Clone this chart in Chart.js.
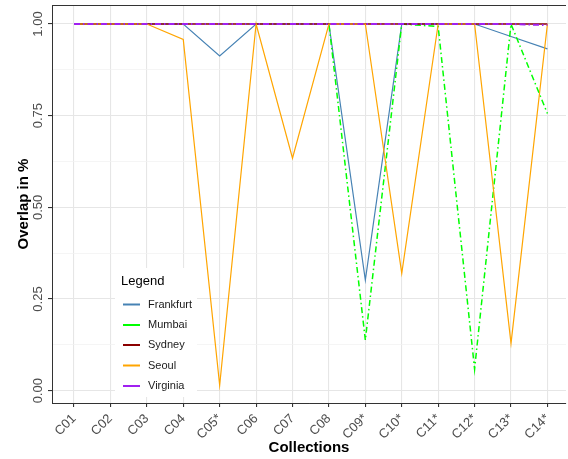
<!DOCTYPE html>
<html>
<head>
<meta charset="utf-8">
<script src="https://cdn.jsdelivr.net/npm/chart.js@4"></script>
<style>
html,body{margin:0;padding:0;background:#fff;}
#wrap{width:568px;height:459px;position:relative;}
</style>
</head>
<body>
<div id="wrap"><canvas id="c" width="568" height="459"></canvas></div>
<script>
const categories = ['C01','C02','C03','C04','C05*','C06','C07','C08','C09*','C10*','C11*','C12*','C13*','C14*'];
const frankfurt = [1,1,1,1,0.913,1,1,1,0.302,1,1,1,0.966,0.932];
const mumbai    = [1,1,1,1,1,1,1,1,0.138,1,0.993,0.059,1,0.756];
const sydney    = [1,1,1,1,1,1,1,1,1,1,1,1,1,1];
const seoul     = [1,1,1,0.958,0.015,1,0.634,1,1,0.320,1,1,0.129,1];
const virginia  = [1,1,1,1,1,1,1,1,1,1,1,1,1,0.997];
const yTicks = [0,0.25,0.5,0.75,1];
const yMinor = [0.125,0.375,0.625,0.875];
const seriesNames = ['Frankfurt','Mumbai','Sydney','Seoul','Virginia'];
const seriesColors = ['#4682B4','#00FF00','#8B0000','#FFA500','#A020F0'];

const FONT = "'Liberation Sans', Arial, Helvetica, sans-serif";
const pts = arr => arr.map((v,i)=>({x:i+1,y:v}));

const series = [frankfurt, mumbai, sydney, seoul, virginia];
const widths = [1.2, 1.5, 1.3, 1.2, 2];
const dashes = [[], [6,3,1.5,3], [], [], [6,3,1.5,3]];
const datasets = series.map((s,i)=>({
  label: seriesNames[i],
  data: pts(s),
  borderColor: seriesColors[i],
  backgroundColor: seriesColors[i],
  borderWidth: widths[i],
  borderDash: dashes[i],
  pointRadius: 0,
  tension: 0,
  fill: false,
  order: 5 - i
}));

const extras = {
  id: 'extras',
  afterDraw(chart) {
    const ctx = chart.ctx;
    const a = chart.chartArea;
    ctx.save();
    ctx.strokeStyle = '#333333';
    ctx.lineWidth = 1;
    ctx.beginPath();
    ctx.moveTo(a.left, a.top + 0.5);
    ctx.lineTo(a.right, a.top + 0.5);
    ctx.stroke();
    ctx.fillStyle = '#ffffff';
    ctx.fillRect(115, 268, 82, 129);
    ctx.fillStyle = '#000000';
    ctx.font = '13px ' + FONT;
    ctx.textBaseline = 'middle';
    ctx.textAlign = 'left';
    ctx.fillText('Legend', 121, 281);
    ctx.font = '11px ' + FONT;
    const ys = [304.5, 325, 345, 365.5, 386];
    seriesNames.forEach((n,i)=>{
      ctx.strokeStyle = seriesColors[i];
      ctx.lineWidth = 2;
      ctx.beginPath();
      ctx.moveTo(123, ys[i]);
      ctx.lineTo(140, ys[i]);
      ctx.stroke();
      ctx.fillStyle = '#1a1a1a';
      ctx.fillText(n, 148, ys[i]);
    });
    ctx.restore();
  }
};

new Chart(document.getElementById('c'), {
  type: 'line',
  data: { datasets },
  plugins: [extras],
  options: {
    responsive: false,
    animation: false,
    events: [],
    layout: { padding: { left: 0, top: 5, right: 2, bottom: 0 } },
    plugins: { legend: { display: false }, tooltip: { enabled: false } },
    scales: {
      x: {
        type: 'linear',
        min: 0.396,
        max: 14.51,
        afterFit: s => { s.height = 56; },
        afterBuildTicks: s => { s.ticks = categories.map((c,i)=>({value:i+1})); },
        ticks: {
          autoSkip: false,
          minRotation: 45,
          maxRotation: 45,
          color: '#4D4D4D',
          font: { size: 13, family: FONT },
          padding: 4,
          callback: v => categories[Math.round(v)-1]
        },
        grid: { color: '#E6E6E6', lineWidth: 1.1, tickLength: 4, tickColor: '#333333' },
        border: { color: '#333333', width: 1 },
        title: {
          display: true, text: 'Collections', color: '#000',
          font: { size: 15, weight: 'bold', family: FONT },
          padding: { top: 0, bottom: 2 }
        }
      },
      y: {
        type: 'linear',
        min: -0.0335,
        max: 1.0518,
        afterFit: s => { s.width = 52; },
        afterBuildTicks: s => {
          const all = yTicks.concat(yMinor).sort((a,b)=>a-b);
          s.ticks = all.map(v=>({value:v}));
        },
        ticks: {
          autoSkip: false,
          minRotation: 90,
          maxRotation: 90,
          crossAlign: 'center',
          color: '#4D4D4D',
          font: { size: 13, family: FONT },
          padding: -3,
          callback: v => yTicks.includes(v) ? v.toFixed(2) : ''
        },
        grid: {
          color: c => yTicks.includes(c.tick.value) ? '#E6E6E6' : '#F0F0F0',
          lineWidth: c => yTicks.includes(c.tick.value) ? 1.1 : 0.7,
          tickLength: 4,
          tickColor: c => yTicks.includes(c.tick.value) ? '#333333' : 'rgba(0,0,0,0)'
        },
        border: { color: '#333333', width: 1 },
        title: {
          display: true, text: 'Overlap in %', color: '#000',
          font: { size: 15, weight: 'bold', family: FONT },
          padding: { top: 15, bottom: 0 }
        }
      }
    }
  }
});
</script>
</body>
</html>
